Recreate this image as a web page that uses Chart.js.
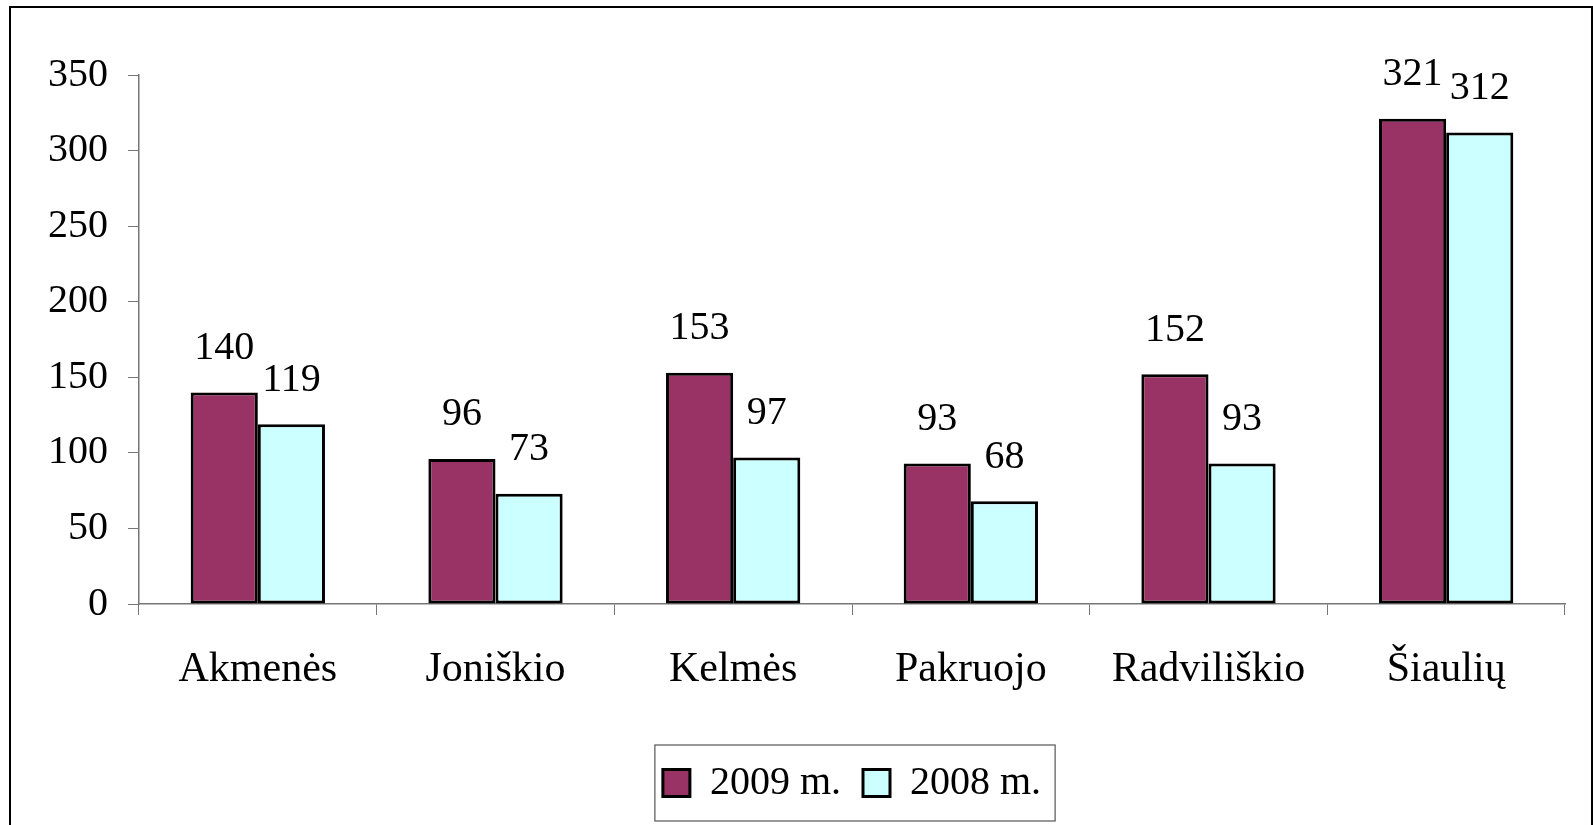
<!DOCTYPE html>
<html>
<head>
<meta charset="utf-8">
<script src="https://cdn.jsdelivr.net/npm/chart.js@4/dist/chart.umd.min.js"></script>
<style>
  html, body { margin: 0; padding: 0; background: #fff; }
  #wrap { width: 1593px; height: 825px; }
</style>
</head>
<body>
<div id="wrap"><canvas id="rajonai"></canvas></div>
<script>
var categories = ["Akmenės", "Joniškio", "Kelmės", "Pakruojo", "Radviliškio", "Šiaulių"];
var values2009 = [140, 96, 153, 93, 152, 321];
var values2008 = [119, 73, 97, 68, 93, 312];
var yTicks = [0, 50, 100, 150, 200, 250, 300, 350];

var serif = "'Liberation Serif', 'Times New Roman', serif";

// outer frame + box round the legend
var framePlugin = {
  id: "frame",
  afterDraw: function (chart) {
    var ctx = chart.ctx;
    ctx.save();
    ctx.strokeStyle = "#000";
    ctx.lineWidth = 2;
    ctx.strokeRect(10, 7, 1582, 840);
    var boxes = chart.legend.legendHitBoxes;
    if (boxes && boxes.length) {
      var l = boxes[0].left, r = boxes[boxes.length - 1].left + boxes[boxes.length - 1].width;
      var cy = boxes[0].top + boxes[0].height / 2;
      ctx.strokeStyle = "#555";
      ctx.lineWidth = 1.2;
      ctx.strokeRect(l - 8, cy - 38, r - l + 22, 76);
    }
    ctx.restore();
  }
};

// value labels above the bars
var valuePlugin = {
  id: "values",
  afterDatasetsDraw: function (chart) {
    var ctx = chart.ctx;
    ctx.save();
    ctx.font = "40px " + serif;
    ctx.fillStyle = "#000";
    ctx.textAlign = "center";
    ctx.textBaseline = "middle";
    chart.data.datasets.forEach(function (ds, i) {
      chart.getDatasetMeta(i).data.forEach(function (bar, j) {
        ctx.fillText(ds.data[j], bar.x, bar.y - 44);
      });
    });
    ctx.restore();
  }
};

new Chart("rajonai", {
  type: "bar",
  data: {
    labels: categories,
    datasets: [{
      label: "2009 m.",
      data: values2009,
      backgroundColor: "#993366",
      borderColor: "#000",
      borderWidth: 3,
      borderSkipped: false
    }, {
      label: "2008 m.",
      data: values2008,
      backgroundColor: "#CCFFFF",
      borderColor: "#000",
      borderWidth: 3,
      borderSkipped: false
    }]
  },
  options: {
    responsive: true,
    maintainAspectRatio: false,
    animation: false,
    categoryPercentage: 0.565,
    barPercentage: 1.0,
    layout: { padding: { left: 0, right: 28, top: 75, bottom: 12 } },
    plugins: {
      tooltip: { enabled: false },
      legend: {
        position: "bottom",
        fullSize: false,
        labels: {
          font: { family: serif, size: 40 },
          color: "#000",
          boxWidth: 27,
          boxHeight: 27,
          padding: 22
        }
      }
    },
    scales: {
      x: {
        afterFit: function (scale) { scale.height = 137; },
        grid: { display: true, drawOnChartArea: false, drawTicks: true, tickLength: 11, color: "#777", offset: true },
        border: { color: "#777", width: 1.5 },
        ticks: { font: { family: serif, size: 42 }, color: "#000", padding: 30, maxRotation: 0 }
      },
      y: {
        min: 0,
        max: 350,
        afterFit: function (scale) { scale.width = 139; },
        afterBuildTicks: function (scale) { scale.ticks = yTicks.map(function (v) { return { value: v }; }); },
        grid: { display: true, drawOnChartArea: false, drawTicks: true, tickLength: 11, color: "#777" },
        border: { color: "#777", width: 1.5 },
        ticks: { font: { family: serif, size: 40 }, color: "#000", padding: 20 }
      }
    }
  },
  plugins: [framePlugin, valuePlugin]
});
</script>
</body>
</html>
